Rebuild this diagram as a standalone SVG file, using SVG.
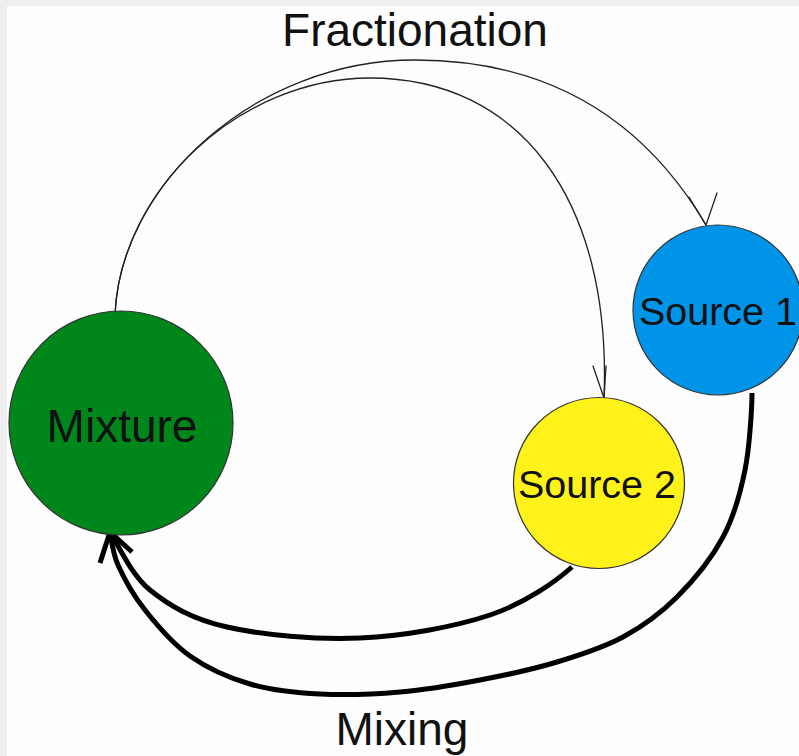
<svg xmlns="http://www.w3.org/2000/svg" width="799" height="756" viewBox="0 0 799 756">
  <style>
    .node { stroke: #333; stroke-width: 1.2; }
    .label { font-family: "Liberation Sans", Arial, Helvetica, sans-serif; font-size: 46px; fill: #111; text-anchor: middle; }
    .src { font-size: 39.5px; }
    .thin { fill: none; stroke: #222; stroke-width: 1.3; stroke-linecap: round; stroke-linejoin: miter; }
    .thick { fill: none; stroke: #000; stroke-width: 5; stroke-linecap: butt; stroke-linejoin: miter; }
  </style>
  <rect x="0" y="0" width="799" height="756" fill="#eeeeee"/>
  <rect x="7" y="6" width="792" height="750" fill="#fdfdfd"/>

  <g id="connectors">
    <g id="fractionation-edges">
      <path class="thin" d="M115,315 C120,185 255,60 415,60 C560,60 650,130 706,225"/>
      <path class="thin" d="M689,197 L706,225 L717,193"/>
      <path class="thin" d="M115,315 C120,190 240,78 370,78 C520,78 612,200 604,398"/>
      <path class="thin" d="M593,366 L604,398 L606,366"/>
    </g>
    <g id="mixing-edges">
      <path class="thick" d="M752,393 C752,406 749.8,446 745,470 C740.2,494 734.3,515.8 723,537 C711.7,558.2 693.7,580.3 677,597 C660.3,613.7 643,626.2 623,637 C603,647.8 580.8,654.8 557,662 C533.2,669.2 506.2,675 480,680 C453.8,685 426.7,689.7 400,692 C373.3,694.3 345,695.3 320,694 C295,692.7 271.7,690.3 250,684 C228.3,677.7 207.5,668.3 190,656 C172.5,643.7 157,625.2 145,610 C133,594.8 123.8,578 118,565 C112.2,552 111.3,537.5 110,532"/>
      <path class="thick" d="M572,567 C555,582 525.3,603.2 490,615 C454.7,626.8 403.8,636 360,638 C316.2,640 262,635 227,627 C192,619 169.5,605.8 150,590 C130.5,574.2 116.7,541.7 110,532"/>
      <path class="thick" d="M100,563 L110,532 L132,552"/>
    </g>
  </g>

  <g id="mixture">
    <circle class="node" cx="121" cy="423" r="112" fill="#00871c"/>
    <text class="label" x="122" y="442">Mixture</text>
  </g>
  <g id="source1">
    <circle class="node" cx="718" cy="310" r="85" fill="#0094e8"/>
    <text class="label src" x="718" y="325">Source 1</text>
  </g>
  <g id="source2">
    <circle class="node" cx="599" cy="483" r="85.5" fill="#fff21a"/>
    <text class="label src" x="597" y="498">Source 2</text>
  </g>
  <g id="edge-labels">
    <text class="label" x="415" y="46">Fractionation</text>
    <text class="label" x="402" y="745">Mixing</text>
  </g>
</svg>
